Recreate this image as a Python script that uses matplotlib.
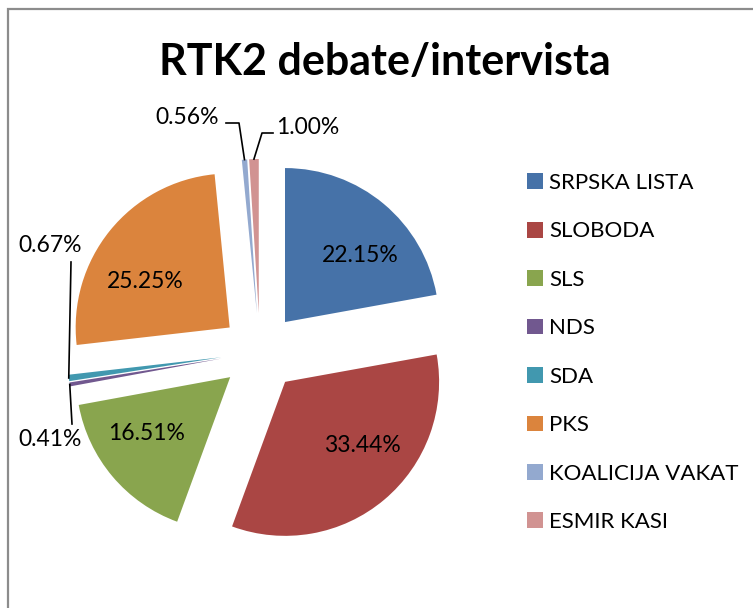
import matplotlib.pyplot as plt
import numpy as np

# data
parties = ["SRPSKA LISTA", "SLOBODA", "SLS", "NDS", "SDA", "PKS",
           "KOALICIJA VAKAT", "ESMIR KASI"]
shares = [22.15, 33.44, 16.51, 0.41, 0.67, 25.25, 0.56, 1.00]
colors = ["#4672A8", "#AA4644", "#89A54E", "#71588F", "#4198AF", "#DB843D",
          "#93A9CF", "#D19392"]
title = "RTK2 debate/intervista"

W, H = 753, 608
FONT = "Lato"
LABEL_SIZE = 16.5


def px(x, y):
    # image pixel coords (y down) -> data coords (y up)
    return x, H - y


fig = plt.figure(figsize=(W / 100, H / 100), dpi=100)
ax = fig.add_axes([0, 0, 1, 1])
ax.set_xlim(0, W)
ax.set_ylim(0, H)
ax.set_aspect("equal")
ax.axis("off")

# chart border (only top and left edges visible in the crop)
ax.plot([8, 8, W + 5], [-5, H - 9, H - 9], color="#8C8C8C", lw=1.6,
        solid_joinstyle="miter")

radius = 154
center = px(260, 352)
explode = [39] * len(shares)

wedges, _ = ax.pie(shares, colors=colors, startangle=90, counterclock=False,
                   explode=explode, radius=radius, center=center,
                   wedgeprops=dict(linewidth=0))

ax.set_xlim(0, W)
ax.set_ylim(0, H)

ax.text(*px(385, 62), title, ha="center", va="center", fontsize=31,
        fontweight="bold", family=FONT)

# labels inside the big slices
inside_pos = {0: (360, 255), 1: (362, 445), 2: (147, 433), 5: (145, 281)}
for i, (x, y) in inside_pos.items():
    ax.text(*px(x, y), f"{shares[i]:.2f}%", ha="center", va="center",
            fontsize=LABEL_SIZE, family=FONT)


def outer_mid(w):
    th = np.deg2rad((w.theta1 + w.theta2) / 2)
    cx, cy = w.center
    return cx + w.r * np.cos(th), cy + w.r * np.sin(th)


# small slices: text position, leader elbow points (pixels)
outside = {
    6: ((187, 118), [(226, 123), (239, 123)]),
    7: ((308, 127), [(273, 133), (262, 133)]),
    4: ((50, 246), [(71, 262)]),
    3: ((50, 440), [(72, 424)]),
}
for i, ((tx, ty), elbow) in outside.items():
    ax.text(*px(tx, ty), f"{shares[i]:.2f}%", ha="center", va="center",
            fontsize=LABEL_SIZE, family=FONT)
    pts = [px(*p) for p in elbow] + [outer_mid(wedges[i])]
    xs, ys = zip(*pts)
    ax.plot(xs, ys, color="black", lw=1.2)

leg = ax.legend(wedges, parties, loc="upper left",
                bbox_to_anchor=(527 / W, 1 - 173 / H), frameon=False,
                prop=dict(family=FONT, size=16),
                handlelength=0.72, handleheight=0.72, handletextpad=0.27,
                labelspacing=1.28, borderpad=0, borderaxespad=0)

fig.savefig("out.png", dpi=100)
